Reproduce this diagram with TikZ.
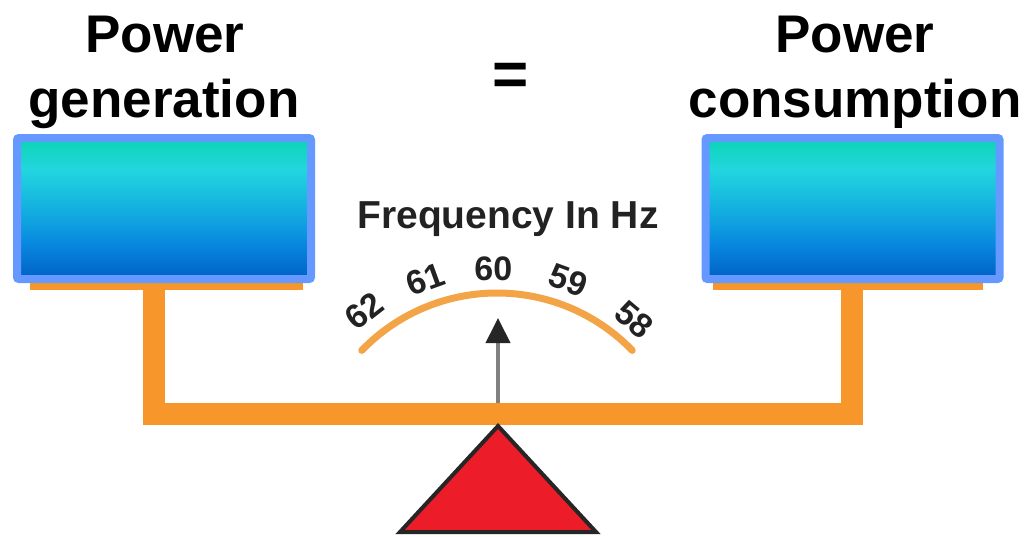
\documentclass[tikz,border=0pt]{standalone}
\usepackage{fontspec}
\setmainfont{Liberation Sans}
\usetikzlibrary{arrows.meta,calc}

\definecolor{beamorange}{RGB}{247,150,42}
\definecolor{arcorange}{RGB}{242,164,70}
\definecolor{boxframe}{RGB}{102,153,255}
\definecolor{gTop}{RGB}{12,212,180}
\definecolor{gCyan}{RGB}{34,214,222}
\definecolor{gMid}{RGB}{20,176,224}
\definecolor{gLow}{RGB}{8,136,224}
\definecolor{gBot}{RGB}{0,96,196}
\definecolor{fulcrumred}{RGB}{236,28,40}
\definecolor{needlegray}{RGB}{128,128,128}
\definecolor{dialtext}{RGB}{34,34,34}

% vertical gradient of the two pans, bottom to top
\pgfdeclareverticalshading{panshade}{100bp}{%
  color(0bp)=(gBot); color(25bp)=(gBot); color(37.5bp)=(gLow);
  color(50bp)=(gMid); color(64bp)=(gCyan); color(75bp)=(gTop);
  color(100bp)=(gTop)}

\tikzset{
  title/.style={font=\fontsize{53}{60}\selectfont\bfseries, inner sep=0pt, anchor=base},
  pan/.style={draw=boxframe, line width=8pt, rounded corners=2pt, shading=panshade,
    minimum width=294pt, minimum height=141pt, inner sep=0pt},
  platter/.style={fill=beamorange},
  beam/.style={draw=beamorange, line width=22pt, line join=miter},
  dialarc/.style={draw=arcorange, line width=7pt, line cap=round},
  dialnum/.style={font=\fontsize{34}{34}\selectfont\bfseries, text=dialtext, inner sep=0pt},
  dialtitle/.style={font=\fontsize{39}{39}\selectfont\bfseries, text=dialtext, inner sep=0pt, anchor=base},
  needle/.style={draw=needlegray, line width=4pt,
    -{Triangle[length=25pt, width=24pt, color=black!85]}},
  fulcrum/.style={fill=fulcrumred, draw=black!85, line width=4pt, line join=miter}
}

\begin{document}
\begin{tikzpicture}[x=1pt, y=1pt]
  \useasboundingbox (0,0) rectangle (1025,-536);

  % headings
  \node[title] (genA) at (165,-52) {Power};
  \node[title] (genB) at (164,-117) {generation};
  \node[title] (conA) at (855,-52) {Power};
  \node[title] (conB) at (855,-117) {consumption};
  \node[font=\fontsize{62}{62}\selectfont\bfseries, inner sep=0pt] (eq) at (511,-79) {=};

  % pans resting on their orange platters
  \fill[platter] (30,-276) rectangle (303,-290);
  \fill[platter] (713,-276) rectangle (983,-290);
  \node[pan] (gen) at (164,-208.5) {};
  \node[pan] (con) at (852.5,-208.5) {};

  % beam with its two posts
  \coordinate (postL) at (154,-286);
  \coordinate (postR) at (852,-286);
  \coordinate (pivot) at (498,-413.5);
  \draw[beam] (postL) -- (postL |- pivot) -- (postR |- pivot) -- (postR);

  % fulcrum
  \coordinate (apex) at (498,-426);
  \draw[fulcrum] (apex) -- (596,-532) -- (400,-532) -- cycle;

  % frequency dial
  \coordinate (dialc) at (497,-481);
  \draw[dialarc] (dialc) ++(136:188) arc[start angle=136, end angle=44, radius=188];
  \node[dialnum, rotate=38]  (f62) at ($(dialc)+(128:216)$) {62};
  \node[dialnum, rotate=20]  (f61) at ($(dialc)+(109.6:214)$) {61};
  \node[dialnum]             (f60) at ($(dialc)+(91:212)$) {60};
  \node[dialnum, rotate=-20] (f59) at ($(dialc)+(70.5:213)$) {59};
  \node[dialnum, rotate=-40] (f58) at ($(dialc)+(49.6:212)$) {58};
  \node[dialtitle] (ftitle) at (508,-228) {Frequency In Hz};

  % needle
  \coordinate (tip) at (498,-318);
  \draw[needle] (498,-403) -- (tip);
\end{tikzpicture}
\end{document}
